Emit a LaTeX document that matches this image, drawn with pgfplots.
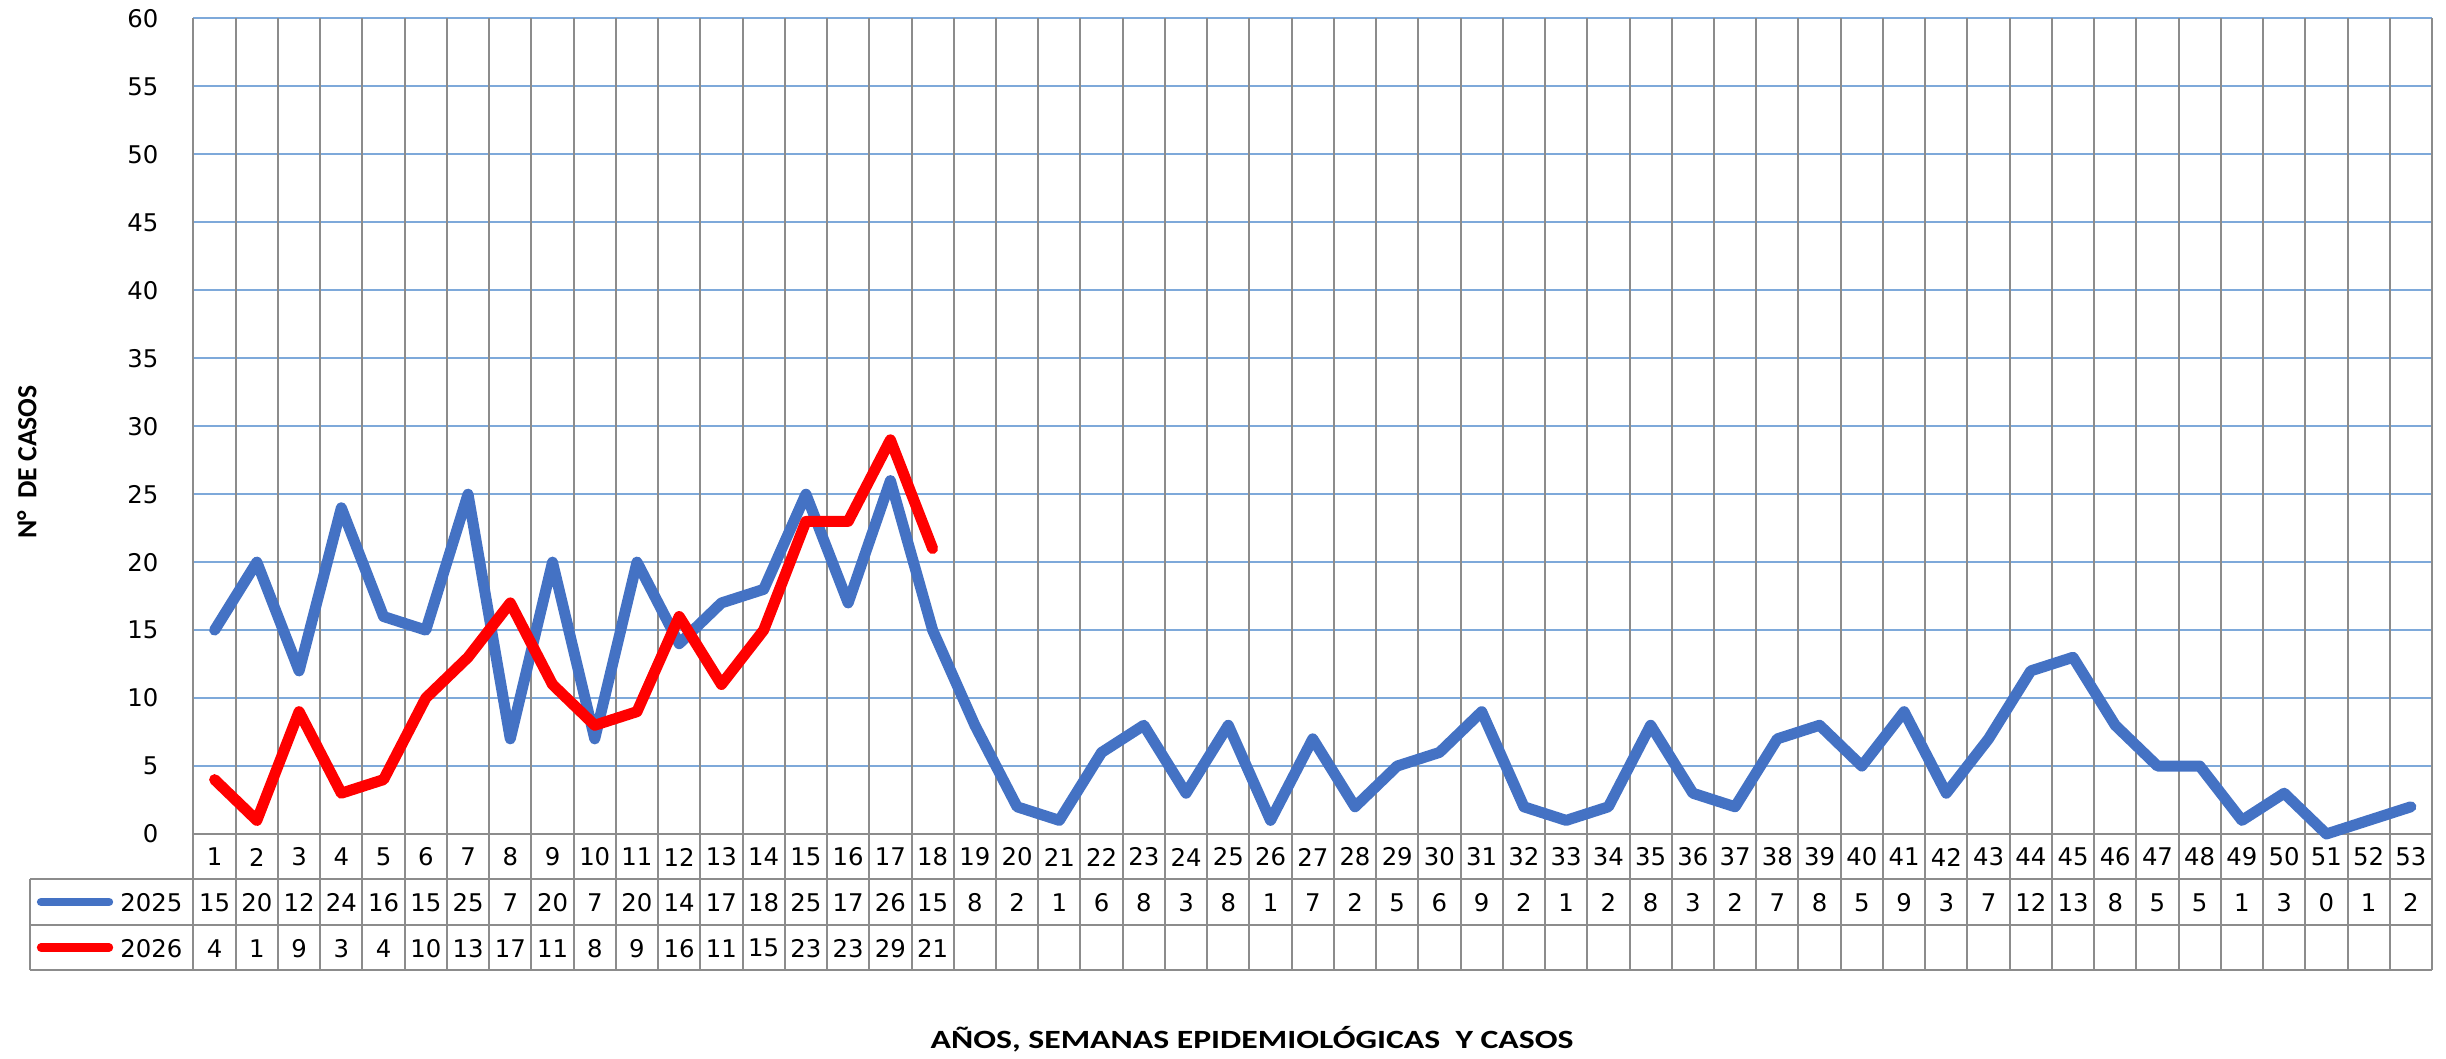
\documentclass[border=0pt]{standalone}
\usepackage{pgfplots}
\pgfplotsset{compat=1.18}
\usepackage{pgfplotstable}
\usepackage{fontspec}
\setmainfont{DejaVu Sans}
\newfontfamily\lab[FakeStretch=1.28]{Carlito}
\newfontfamily\ylab{Carlito}
\definecolor{s25}{HTML}{4472C4}
\definecolor{s26}{HTML}{FF0000}
\definecolor{gridblue}{HTML}{7EA9DA}
\definecolor{gridgray}{HTML}{8C8C8C}
\newcommand{\tbl}{\fontsize{7.3}{9}\selectfont}

\pgfplotstableread{
w v
1 15
2 20
3 12
4 24
5 16
6 15
7 25
8 7
9 20
10 7
11 20
12 14
13 17
14 18
15 25
16 17
17 26
18 15
19 8
20 2
21 1
22 6
23 8
24 3
25 8
26 1
27 7
28 2
29 5
30 6
31 9
32 2
33 1
34 2
35 8
36 3
37 2
38 7
39 8
40 5
41 9
42 3
43 7
44 12
45 13
46 8
47 5
48 5
49 1
50 3
51 0
52 1
53 2
}\tA

\pgfplotstableread{
w v
1 4
2 1
3 9
4 3
5 4
6 10
7 13
8 17
9 11
10 8
11 9
12 16
13 11
14 15
15 23
16 23
17 29
18 21
}\tB

\begin{document}
\begin{tikzpicture}
\useasboundingbox (-58.05pt,-67.5pt) rectangle (675.75pt,250.2pt);
\begin{axis}[
  at={(0,0)}, anchor=south west, scale only axis,
  width=671.55pt, height=244.65pt,
  xmin=0.5, xmax=53.5, ymin=0, ymax=60,
  clip=false,
  axis line style={draw=none},
  xtick=\empty,
  ytick={0,5,...,60},
  ytick style={draw=none},
  ymajorgrids,
  major grid style={gridblue, line width=0.6pt},
  /pgf/number format/assume math mode=true,
  yticklabel style={font=\tbl, xshift=-7pt},
  xlabel={AÑOS, SEMANAS\ EPIDEMIOLÓGICAS\ \ Y CASOS},
  every axis x label/.style={at={(rel axis cs:0.4729,0)}, yshift=-61.5pt, anchor=center, font=\lab\bfseries\fontsize{7.9}{9}\selectfont},
  ylabel={N°\ \ DE CASOS},
  every axis y label/.style={at={(rel axis cs:0,0.456)}, xshift=-49.95pt, rotate=90, anchor=center, font=\ylab\bfseries\fontsize{8.3}{10}\selectfont},
]
% table and vertical grid lines
\pgfplotsinvokeforeach{0,...,53}{\draw[gridgray, line width=0.6pt] (axis cs:#1.5,-10) -- (axis cs:#1.5,60);}
\draw[gridgray, line width=0.6pt] (axis cs:0.5,0) -- (axis cs:53.5,0);
\draw[gridgray, line width=0.6pt] (axis cs:-3.371,-3.333) -- (axis cs:53.5,-3.333);
\draw[gridgray, line width=0.6pt] (axis cs:-3.371,-6.667) -- (axis cs:53.5,-6.667);
\draw[gridgray, line width=0.6pt] (axis cs:-3.371,-10) -- (axis cs:53.5,-10);
\draw[gridgray, line width=0.6pt] (axis cs:-3.371,-3.333) -- (axis cs:-3.371,-10);
% legend samples
\draw[s25, line width=2.5pt, line cap=round] (axis cs:-3.11,-5.0) -- (axis cs:-1.50,-5.0);
\node[anchor=east, inner sep=0pt, font=\tbl] at (axis cs:0.251,-5.05) {2025};
\draw[s26, line width=2.5pt, line cap=round] (axis cs:-3.11,-8.35) -- (axis cs:-1.50,-8.35);
\node[anchor=east, inner sep=0pt, font=\tbl] at (axis cs:0.251,-8.4) {2026};
% series
\addplot[s25, line width=3.3pt, line join=round, line cap=round, mark=none] table[x=w, y=v] {\tA};
\addplot[s26, line width=3.3pt, line join=round, line cap=round, mark=none] table[x=w, y=v] {\tB};
% data table text
\addplot[draw=none, mark=none, nodes near coords, point meta=explicit symbolic,
  every node near coord/.append style={anchor=center, font=\tbl, inner sep=0pt, text=black}]
  table[x=w, y expr=-1.7, meta=w] {\tA};
\addplot[draw=none, mark=none, nodes near coords, point meta=explicit symbolic,
  every node near coord/.append style={anchor=center, font=\tbl, inner sep=0pt, text=black}]
  table[x=w, y expr=-5.05, meta=v] {\tA};
\addplot[draw=none, mark=none, nodes near coords, point meta=explicit symbolic,
  every node near coord/.append style={anchor=center, font=\tbl, inner sep=0pt, text=black}]
  table[x=w, y expr=-8.4, meta=v] {\tB};
\end{axis}
\end{tikzpicture}
\end{document}
